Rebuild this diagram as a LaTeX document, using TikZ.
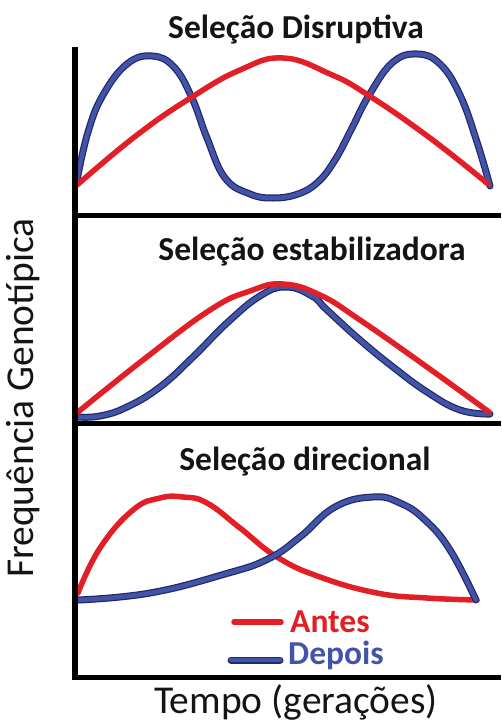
\documentclass[tikz,border=0pt]{standalone}
\usepackage{fontspec}
\setmainfont{Carlito}
\usepackage{tikz}
\usetikzlibrary{positioning}

\definecolor{antescor}{RGB}{226,30,38}
\definecolor{depoiscor}{RGB}{66,84,168}
\definecolor{depoisborda}{RGB}{32,40,104}

\tikzset{
antes/.style={draw=antescor,line width=5.5pt,line cap=round,line join=round},
depois/.style={draw=depoisborda,line width=7pt,line cap=round,line join=round,
  postaction={draw=depoiscor,line width=4.5pt}},
titulo/.style={font=\bfseries\fontsize{33.5}{40}\selectfont,anchor=base,inner sep=0pt,text=black!92},
rotulo/.style={font=\fontsize{39.5}{46}\selectfont,anchor=base,inner sep=0pt,text=black!92},
eixo/.style={line width=5pt}
}

\begin{document}
\begin{tikzpicture}[x=1pt,y=-1pt]
\useasboundingbox (0,0) rectangle (501,725);

% disruptiva
\draw[depois] plot[smooth,tension=0.7] coordinates {(77,180) (88,132) (103,95) (127,64) (152,56)
  (174,67) (192,98) (207,138) (225,178) (250,194) (273,198) (298,194) (318,182) (335,160)
  (352,128) (368,97) (392,63) (417,54) (440,64) (460,95) (477,142) (490,186)};
\draw[antes] plot[smooth,tension=0.75] coordinates {(77,185) (137,135) (192,97) (240,70) (283,58)
  (330,74) (368,95) (430,138) (488,184)};

% estabilizadora
\draw[depois] plot[smooth,tension=0.75] coordinates {(78,417) (100,416) (127,407) (160,387)
  (193,357) (227,323) (260,296) (286,287) (312,296) (327,310) (360,340) (393,367) (427,392)
  (460,410) (490,414)};
\draw[antes] plot[smooth,tension=0.75] coordinates {(78,412) (143,360) (210,310) (250,291) (283,284)
  (320,295) (360,320) (427,367) (489,412)};

% direcional
\draw[antes] plot[smooth,tension=0.75] coordinates {(78,593) (100,548) (133,510) (160,498) (183,497)
  (207,503) (240,528) (277,557) (320,577) (377,593) (427,598) (477,600)};
\draw[depois] plot[smooth,tension=0.75] coordinates {(78,600) (150,593) (225,574) (268,559)
  (300,537) (335,507) (373,497) (400,503) (425,520) (450,550) (476,600)};

% eixos
\draw[line width=6pt] (75,47) -- (75,680);
\foreach\y in {215,423,677} {
\draw[eixo] (72,\y) -- (501,\y);
}

\node[titulo] (disruptiva) at (296,39) {Seleção Disruptiva};
\node[titulo] (estabilizadora) at (312,260) {Seleção estabilizadora};
\node[titulo] (direcional) at (305,470) {Seleção direcional};

\node[rotulo] (tempo) at (296,713) {Tempo (gerações)};
\node[rotulo,rotate=90] (frequencia) at (33,398) {Frequência Genotípica};

% legenda
\node[titulo,anchor=base west,text=antescor] (antes) at (290,632) {Antes};
\node[titulo,anchor=base west,text=depoiscor] (depois) at (288,664) {Depois};
\coordinate (antesA) at (234,622);
\coordinate (antesB) at (281,622);
\coordinate (depoisA) at (231,660);
\coordinate (depoisB) at (280,660);
\draw[antes] (antesA) -- (antesB);
\draw[depois] (depoisA) -- (depoisB);
\end{tikzpicture}
\end{document}
